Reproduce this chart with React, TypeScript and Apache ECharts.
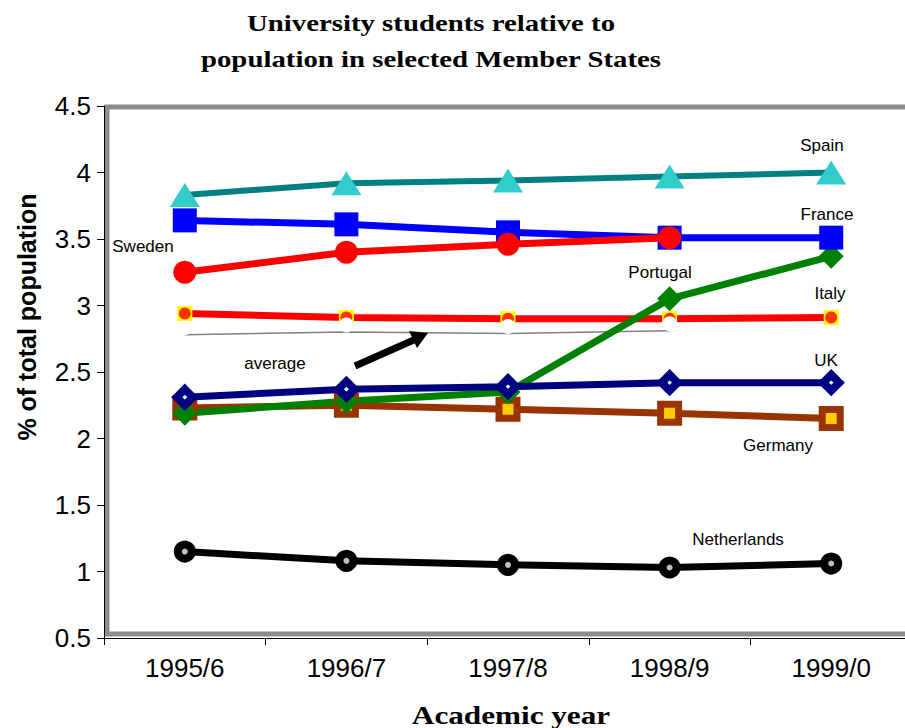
import { useEffect, useRef } from "react";
import * as echarts from "echarts";

// Academic years on the category axis
const years = ["1995/6", "1996/7", "1997/8", "1998/9", "1999/0"];

// University students as % of total population
const spain = [3.83, 3.92, 3.94, 3.97, 4.0];
const france = [3.64, 3.61, 3.55, 3.51, 3.51];
const sweden = [3.25, 3.4, 3.46, 3.51, null];
const italy = [2.94, 2.91, 2.9, 2.9, 2.91];
const average = [2.78, 2.8, 2.79, 2.81, null];
const portugal = [2.19, 2.28, 2.35, 3.05, 3.37];
const uk = [2.31, 2.37, 2.39, 2.42, 2.42];
const germany = [2.23, 2.25, 2.22, 2.19, 2.15];
const netherlands = [1.15, 1.08, 1.05, 1.03, 1.06];

// Value axis range
const yMin = 0.5;
const yMax = 4.5;
const yStep = 0.5;

const SANS = "'Liberation Sans', Arial, sans-serif";
const SERIF = "'Liberation Serif', 'Times New Roman', serif";

type Label = { text: string; x: number; y: number };
const seriesLabels: Label[] = [
  { text: "Spain", x: 822, y: 145 },
  { text: "France", x: 827, y: 214 },
  { text: "Sweden", x: 143, y: 246 },
  { text: "Portugal", x: 660, y: 272 },
  { text: "Italy", x: 830, y: 293 },
  { text: "average", x: 275, y: 363 },
  { text: "UK", x: 826, y: 360 },
  { text: "Germany", x: 778, y: 445 },
  { text: "Netherlands", x: 738, y: 539 },
];

function lineSeries(
  name: string,
  data: (number | null)[],
  color: string,
  symbol: string,
  symbolSize: number | number[],
  fill: string,
  border?: { color: string; width: number },
  width = 7
) {
  return {
    name,
    type: "line",
    data,
    symbol,
    symbolSize,
    showSymbol: true,
    lineStyle: { color, width },
    itemStyle: {
      color: fill,
      borderColor: border ? border.color : fill,
      borderWidth: border ? border.width : 0,
    },
    emphasis: { disabled: true },
  };
}

export default function App() {
  const ref = useRef<HTMLDivElement>(null);

  useEffect(() => {
    if (!ref.current) return;
    const chart = echarts.init(ref.current, null, { renderer: "svg" });

    const option = {
      animation: false,
      backgroundColor: "#ffffff",
      grid: {
        left: 104,
        right: -7,
        top: 106,
        bottom: 90,
        containLabel: false,
        outerBoundsMode: "none",
      },
      xAxis: {
        type: "category",
        data: years,
        boundaryGap: true,
        axisLine: { lineStyle: { color: "#000", width: 1 } },
        axisTick: { show: true, length: 7, lineStyle: { color: "#000" } },
        axisLabel: {
          fontFamily: SANS,
          fontSize: 26,
          color: "#000",
          margin: 17,
        },
        splitLine: { show: false },
      },
      yAxis: {
        type: "value",
        min: yMin,
        max: yMax,
        interval: yStep,
        axisLine: { show: true, lineStyle: { color: "#000", width: 1 } },
        axisTick: { show: true, length: 7, lineStyle: { color: "#000" } },
        axisLabel: {
          fontFamily: SANS,
          fontSize: 26,
          color: "#000",
          margin: 13,
        },
        splitLine: { show: false },
      },
      graphic: [
        {
          type: "rect",
          z: 0,
          silent: true,
          shape: { x: 107, y: 107, width: 820, height: 527 },
          style: { fill: "none", stroke: "#8c8c8c", lineWidth: 5 },
        },
        {
          type: "text",
          z: 10,
          x: 431,
          y: 5,
          scaleX: 1.2,
          style: {
            text: "University students relative to\npopulation in selected Member States",
            font: `bold 24px ${SERIF}`,
            fill: "#000",
            textAlign: "center",
            lineHeight: 36,
          },
        },
        {
          type: "text",
          z: 10,
          x: 511,
          y: 715,
          scaleX: 1.2,
          style: {
            text: "Academic year",
            font: `bold 26px ${SERIF}`,
            fill: "#000",
            textAlign: "center",
            textVerticalAlign: "middle",
          },
        },
        {
          type: "text",
          z: 10,
          x: 27,
          y: 317,
          rotation: Math.PI / 2,
          style: {
            text: "% of total population",
            font: `bold 25px ${SANS}`,
            fill: "#000",
            textAlign: "center",
            textVerticalAlign: "middle",
          },
        },
        {
          type: "line",
          z: 10,
          shape: { x1: 355, y1: 366, x2: 416, y2: 339 },
          style: { stroke: "#000", lineWidth: 7 },
        },
        {
          type: "polygon",
          z: 10,
          shape: {
            points: [
              [428, 333],
              [417, 348],
              [409, 331],
            ],
          },
          style: { fill: "#000" },
        },
        ...seriesLabels.map((l) => ({
          type: "text",
          z: 10,
          x: l.x,
          y: l.y,
          style: {
            text: l.text,
            font: `17px ${SANS}`,
            fill: "#000",
            textAlign: "center",
            textVerticalAlign: "middle",
          },
        })),
      ],
      series: [
        lineSeries("Netherlands", netherlands, "#000000", "circle", 14, "#c0c0c0", { color: "#000", width: 8 }),
        lineSeries("Germany", germany, "#993300", "rect", 18, "#ffcc00", { color: "#993300", width: 7 }),
        lineSeries("Italy", italy, "#ff0000", "rect", 15, "#ffff00"),
        {
          name: "Italy markers",
          type: "scatter",
          data: italy,
          symbol: "circle",
          symbolSize: 12,
          itemStyle: { color: "#ff0000" },
          z: 3,
          emphasis: { disabled: true },
        },
        {
          ...lineSeries("average", average, "#808080", "circle", 15, "#ffffff", undefined, 1.5),
          symbolOffset: [0, -7],
          z: 3,
        },
        { ...lineSeries("Portugal", portugal, "#008000", "diamond", 25, "#008000"), z: 3 },
        { ...lineSeries("UK", uk, "#000080", "diamond", 16, "#ccffff", { color: "#000080", width: 8 }), z: 4 },
        { ...lineSeries("Spain", spain, "#008080", "triangle", [30, 24], "#33cccc", undefined, 6), z: 4 },
        { ...lineSeries("France", france, "#0000ff", "rect", 24, "#0000ff"), z: 4 },
        { ...lineSeries("Sweden", sweden, "#ff0000", "circle", 23, "#ff0000"), z: 5 },
      ],
    };

    chart.setOption(option as any);
    return () => chart.dispose();
  }, []);

  return (
    <div
      ref={ref}
      style={{ position: "fixed", left: 0, top: 0, width: 905, height: 728 }}
    />
  );
}
